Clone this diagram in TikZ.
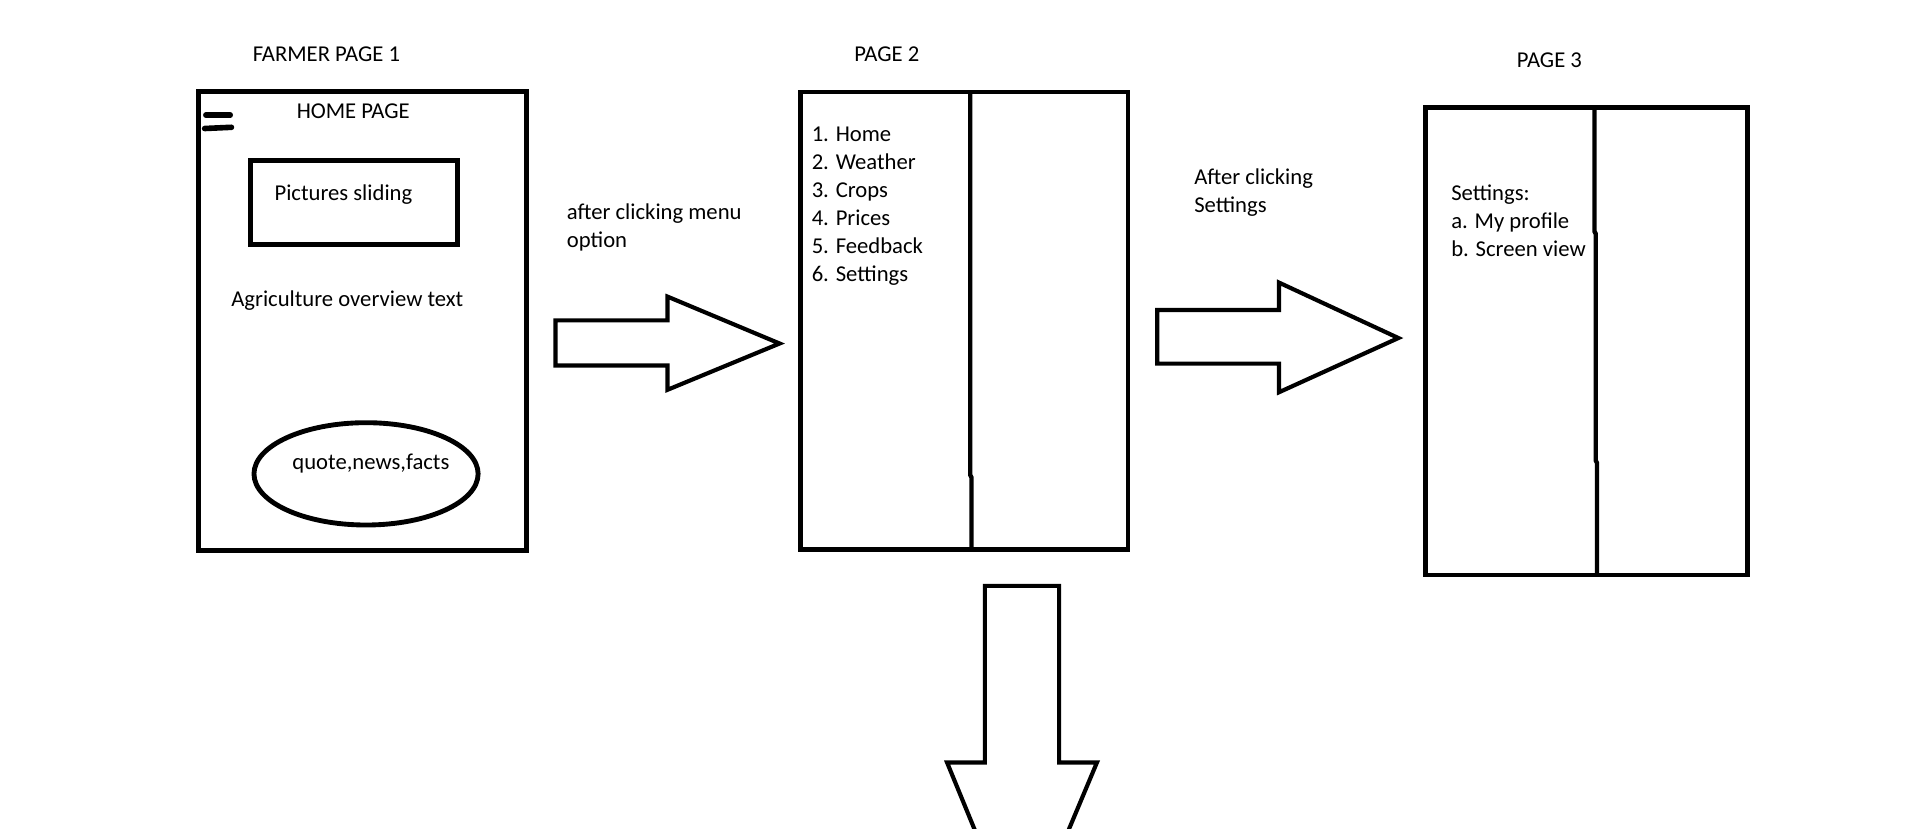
\documentclass[tikz,border=0pt]{standalone}
\usepackage{fontspec}
\setmainfont{Carlito}
\begin{document}
\begin{tikzpicture}[x=0.5pt,y=-0.5pt,
  frame/.style={draw=black,line width=2pt},
  thinline/.style={draw=black,line width=1.8pt},
  blockarrow/.style={draw=black,line width=1.7pt,line join=miter},
  txt/.style={inner sep=0pt,anchor=base west,font=\fontsize{9.3}{11.4}\selectfont},
  ctxt/.style={inner sep=0pt,anchor=base,font=\fontsize{9.3}{11.4}\selectfont}]
\useasboundingbox[fill=white] (0,0) rectangle (1568,680);

% ---- Page 1
\node[ctxt] (t1) at (268,50.5) {FARMER PAGE 1};
\draw[frame] (163,75) rectangle (432,452);
\draw[black,line width=2.3pt,line cap=round] (169,94.5) -- (189,94.5);
\draw[black,line width=2.3pt,line cap=round] (168,105.5) -- (190,104.5);
\node[ctxt] (home) at (290,97.5) {HOME PAGE};
\draw[frame] (206,131.5) rectangle (375.5,200.5);
\node[txt] (pics) at (225,164.5) {Pictures sliding};
\node[txt] (agri) at (189.5,251.5) {Agriculture overview text};
\draw[frame] (300.5,389) ellipse [x radius=92, y radius=42];
\node[ctxt] (quote) at (304.5,385.5) {quote,news,facts};

% ---- Arrow 1
\node[txt] (a1t) at (465,180.5) {after clicking menu};
\node[txt] (a1u) at (465,203.5) {option};
\draw[blockarrow] (456,263) -- (548,263) -- (548,243.5) -- (640,282) -- (548,320) -- (548,300) -- (456,300) -- cycle;

% ---- Page 2
\node[ctxt] (t2) at (728,50.5) {PAGE 2};
\draw[frame] (657,75.5) rectangle (926,451);
\draw[thinline] (796.5,76) -- (796.5,390) -- (797.5,392) -- (797.5,450);
\node[txt] (m1) at (666,116.5) {1. Home};
\node[txt] (m2) at (666,139.5) {2. Weather};
\node[txt] (m3) at (666,162.5) {3. Crops};
\node[txt] (m4) at (666,185.5) {4. Prices};
\node[txt] (m5) at (666,208) {5. Feedback};
\node[txt] (m6) at (666,231) {6. Settings};

% ---- Arrow 2
\node[txt] (a2t) at (980,151.5) {After clicking};
\node[txt] (a2u) at (980,174.5) {Settings};
\draw[blockarrow] (950,254.5) -- (1050,254.5) -- (1050,232) -- (1148,277.5) -- (1050,322) -- (1050,298.5) -- (950,298.5) -- cycle;

% ---- Page 3
\node[ctxt] (t3) at (1272,55.5) {PAGE 3};
\draw[frame] (1170.5,88) rectangle (1434.5,472);
\draw[thinline] (1309,89) -- (1309,190) -- (1310,192) -- (1310,378) -- (1311,380) -- (1311,471);
\node[txt] (s0) at (1191,164.5) {Settings:};
\node[txt] (s1) at (1191,187.5) {a. My profile};
\node[txt] (s2) at (1191,210.5) {b. Screen view};

% ---- Down arrow
\draw[blockarrow] (800.5,682) -- (777.5,626) -- (808.5,626) -- (808.5,481) -- (869.5,481) -- (869.5,626) -- (900.5,626) -- (877,682);
\end{tikzpicture}
\end{document}
